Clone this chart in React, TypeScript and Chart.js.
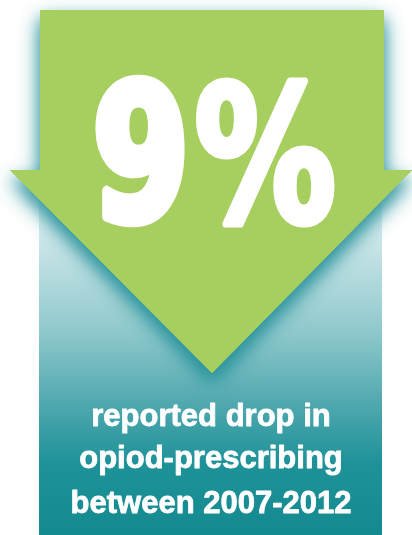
import React, { useEffect, useRef } from "react";
import { Chart, registerables } from "chart.js";

Chart.register(...registerables);

// ---- data ----
const DROP_VALUE: number[] = [9];
const VALUE_SUFFIX: string[] = ["%"];
const CAPTION_LINES: string[] = ["reported drop in", "opiod-prescribing", "between 2007-2012"];

// ---- styles ----
const GREEN = "#a6cf60";
const SHADOW = "rgba(28,140,150,0.85)";
const W = 412;
const H = 535;

const infographicPlugin = {
  id: "infographic",
  beforeDraw(chart: any) {
    const ctx: CanvasRenderingContext2D = chart.ctx;
    const w = chart.width;
    const h = chart.height;
    ctx.save();
    ctx.fillStyle = "#ffffff";
    ctx.fillRect(0, 0, w, h);

    // teal panel
    const px0 = 39, px1 = 382, py0 = 172;
    const g = ctx.createLinearGradient(0, py0, 0, h);
    g.addColorStop(0, "#ffffff");
    g.addColorStop(0.2, "#c9e5e8");
    g.addColorStop(0.45, "#8cc7cb");
    g.addColorStop(0.62, "#55abb1");
    g.addColorStop(0.8, "#1f9299");
    g.addColorStop(1, "#138a90");
    ctx.fillStyle = g;
    ctx.fillRect(px0, py0, px1 - px0, h - py0);

    // arrow
    const ax0 = 40, ax1 = 384, top = 10, sh = 170, lx = 10, rx = 412, tipX = 212, tipY = 373;
    ctx.beginPath();
    ctx.moveTo(ax0, top);
    ctx.lineTo(ax1, top);
    ctx.lineTo(ax1, sh);
    ctx.lineTo(rx, sh);
    ctx.lineTo(tipX, tipY);
    ctx.lineTo(lx, sh);
    ctx.lineTo(ax0, sh);
    ctx.closePath();
    ctx.shadowColor = SHADOW;
    ctx.shadowBlur = 22;
    ctx.shadowOffsetY = 10;
    ctx.fillStyle = GREEN;
    ctx.fill();
    ctx.shadowBlur = 14;
    ctx.shadowOffsetY = 8;
    ctx.shadowColor = "rgba(28,140,150,0.5)";
    ctx.fill();
    ctx.shadowColor = "transparent";
    ctx.shadowBlur = 0;
    ctx.shadowOffsetY = 0;
    ctx.fill();

    // big value
    ctx.fillStyle = "#ffffff";
    ctx.strokeStyle = "#ffffff";
    ctx.lineJoin = "round";
    const bigFont = 'bold 210px "Liberation Sans Narrow", "DejaVu Sans Condensed", "Liberation Sans", sans-serif';
    ctx.font = bigFont;
    ctx.textBaseline = "alphabetic";
    ctx.textAlign = "left";
    const drawFit = (txt: string, x0: number, x1: number, yTop: number, yBase: number, lw: number) => {
      const m = ctx.measureText(txt);
      const gw = m.actualBoundingBoxLeft + m.actualBoundingBoxRight + lw;
      const gh = m.actualBoundingBoxAscent + m.actualBoundingBoxDescent + lw;
      const sx = (x1 - x0) / gw;
      const sy = (yBase - yTop) / gh;
      ctx.save();
      ctx.translate(x0, yBase);
      ctx.scale(sx, sy);
      const ox = m.actualBoundingBoxLeft + lw / 2;
      const oy = -(m.actualBoundingBoxDescent + lw / 2);
      ctx.lineWidth = lw;
      ctx.fillText(txt, ox, oy);
      ctx.strokeText(txt, ox, oy);
      ctx.restore();
    };
    drawFit(String(DROP_VALUE[0]), 95, 185, 75, 227, 12);
    drawFit(VALUE_SUFFIX[0], 196, 335, 75, 227, 8);

    // caption
    ctx.font = 'bold 31px "Liberation Sans", Arial, sans-serif';
    ctx.textAlign = "center";
    ctx.lineWidth = 0.8;
    const baselines = [426, 468, 513];
    CAPTION_LINES.forEach((t, i) => {
      ctx.fillText(t, 211, baselines[i]);
      ctx.strokeText(t, 211, baselines[i]);
    });
    ctx.restore();
  },
};

export default function App() {
  const ref = useRef<HTMLCanvasElement | null>(null);
  useEffect(() => {
    document.body.style.margin = "0";
    if (!ref.current) return;
    const chart = new Chart(ref.current, {
      type: "bar",
      data: {
        labels: [""],
        datasets: [{ label: "drop", data: [] as number[], backgroundColor: "transparent" }],
      },
      options: {
        responsive: false,
        animation: false,
        plugins: { legend: { display: false }, tooltip: { enabled: false } },
        scales: { x: { display: false }, y: { display: false } },
      },
      plugins: [infographicPlugin],
    });
    return () => chart.destroy();
  }, []);
  return (
    <div style={{ width: W, height: H }}>
      <canvas ref={ref} width={W} height={H} style={{ display: "block" }} />
    </div>
  );
}
